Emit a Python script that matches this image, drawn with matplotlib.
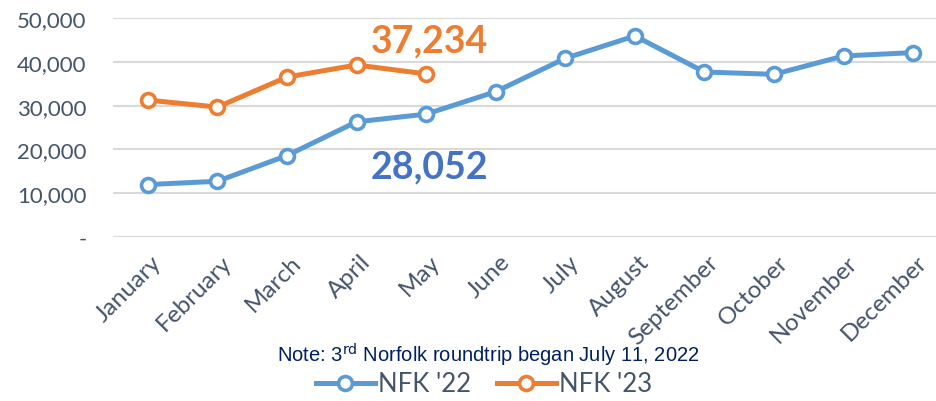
import matplotlib.pyplot as plt
from matplotlib.ticker import FuncFormatter
from matplotlib.transforms import ScaledTranslation

months = ['January', 'February', 'March', 'April', 'May', 'June', 'July',
          'August', 'September', 'October', 'November', 'December']
nfk_22 = [11970, 12720, 18600, 26300, 28052, 33180, 40800, 45900, 37670, 37140, 41330, 42100]
nfk_23 = [31260, 29660, 36520, 39270, 37234]

blue = '#5B9BD5'
orange = '#ED7D31'
gray = '#44546A'

plt.rcParams['font.family'] = ['Lato', 'DejaVu Sans']

fig = plt.figure(figsize=(9.36, 4.02), dpi=100)
ax = fig.add_axes([113 / 936, 1 - 238 / 402, 835 / 936, 219 / 402])

x = list(range(len(months)))
ax.plot(x, nfk_22, color=blue, lw=3.6, marker='o', ms=10, mfc='white', mec=blue, mew=2.6,
        label="NFK '22", zorder=3)
ax.plot(x[:len(nfk_23)], nfk_23, color=orange, lw=3.6, marker='o', ms=10, mfc='white', mec=orange,
        mew=2.6, label="NFK '23", zorder=3)

# last value of each year called out in large bold text
ax.text(4.05, nfk_23[-1] + 7600, f'{nfk_23[-1]:,}', color=orange, fontsize=27, fontweight='bold',
        ha='center', va='center')
ax.text(4.05, nfk_22[4] - 11900, f'{nfk_22[4]:,}', color='#4472C4', fontsize=27, fontweight='bold',
        ha='center', va='center')

ax.set_xlim(-0.5, 11.5)
ax.set_ylim(0, 50000)
ax.set_yticks(range(0, 50001, 10000))
ax.yaxis.set_major_formatter(FuncFormatter(lambda v, p: '-' if v == 0 else f'{int(v):,}'))
ax.set_xticks(x)
ax.set_xticklabels(months, rotation=45, ha='right', va='top', rotation_mode='anchor')
ax.grid(axis='y', color='#D9D9D9', lw=1.5)
ax.set_axisbelow(True)
for s in ax.spines.values():
    s.set_visible(False)
ax.tick_params(length=0)
ax.tick_params(axis='y', labelsize=16, labelcolor=gray, pad=19)
ax.tick_params(axis='x', labelsize=17.5, labelcolor=gray, pad=10)
# nudge month names a little right of their ticks
for t in ax.get_xticklabels():
    t.set_transform(t.get_transform() + ScaledTranslation(0.03, 0, fig.dpi_scale_trans))

fig.text(0.522, 1 - 355 / 402, 'Note: 3$^{\\rm rd}$ Norfolk roundtrip began July 11, 2022',
         fontsize=14.5, color='#002060', family='Liberation Sans', ha='center', va='center')

leg = fig.legend(loc='center', bbox_to_anchor=(0.517, 1 - 385 / 402), ncol=2, frameon=False,
                 fontsize=18.5, handlelength=2.3, handletextpad=0.12, columnspacing=1.0)
for t in leg.get_texts():
    t.set_color(gray)

fig.savefig('out.png', dpi=100)
